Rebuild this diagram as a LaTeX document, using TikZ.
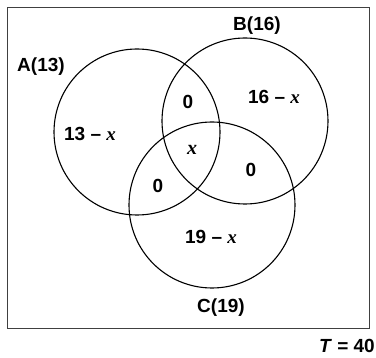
\documentclass[tikz,border=0pt]{standalone}
\usepackage{fontspec}
\setmainfont{Liberation Sans}
\newfontfamily\varfont{Liberation Serif}
\newcommand{\vx}{{\varfont\itshape x}}
\begin{document}
\begin{tikzpicture}[x={(1pt,0)},y={(0,-1pt)},
  setcirc/.style={draw=black,line width=1.1pt},
  lbl/.style={font=\fontsize{19}{21}\selectfont\bfseries,inner sep=0pt},
  vxs/.style={font=\fontsize{20}{22}\selectfont\bfseries,inner sep=0pt}]
\useasboundingbox (0,0) rectangle (376,358);
\node[draw=black!75,line width=1.4pt,minimum width=362pt,minimum height=321pt,anchor=north west,inner sep=0pt] (box) at (7,7) {};
\node[setcirc,circle,minimum size=166pt,inner sep=0pt] (A) at (137,132) {};
\node[setcirc,circle,minimum size=166pt,inner sep=0pt] (B) at (245,121) {};
\node[setcirc,circle,minimum size=166pt,inner sep=0pt] (C) at (212,205) {};
\node[lbl] (la) at (41,67) {A(13)};
\node[lbl] (lb) at (257,26) {B(16)};
\node[lbl] (lc) at (221,308) {C(19)};
\node[lbl] (ra) at (90,134) {13 – \vx};
\node[lbl] (rb) at (274,97) {16 – \vx};
\node[lbl] (rc) at (211,237) {19 – \vx};
\node[lbl] (rab) at (188,102) {0};
\node[lbl] (rbc) at (251,170) {0};
\node[lbl] (rac) at (158,186) {0};
\node[vxs] (rabc) at (192,150) {\vx};
\node[lbl,anchor=east] (tot) at (375,346) {\textit{T} = 40};
\end{tikzpicture}
\end{document}
